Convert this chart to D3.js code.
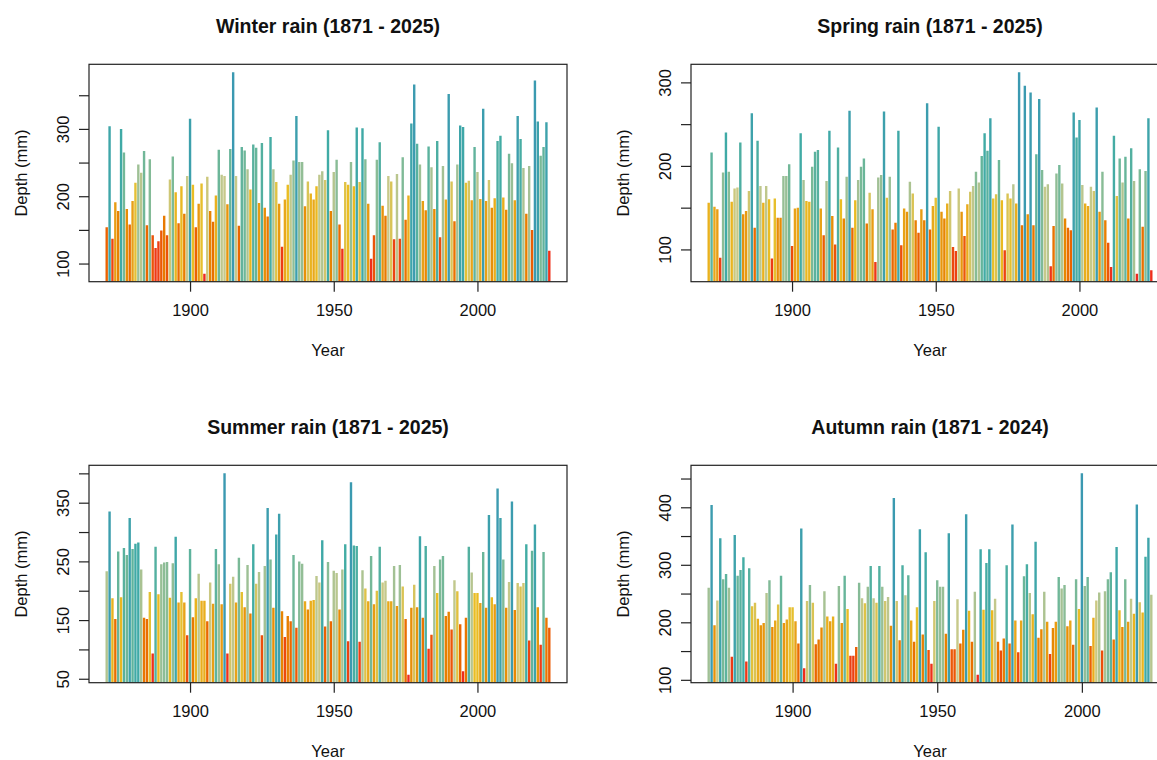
<!DOCTYPE html>
<html>
<head>
<meta charset="utf-8">
<script src="https://cdn.jsdelivr.net/npm/d3@7/dist/d3.min.js"></script>
<style>
  body { margin: 0; background: #fff; }
  text { font-family: "Liberation Sans", Arial, sans-serif; fill: #111; }
</style>
</head>
<body>
<div class="canvas"></div>
<script>
// seasonal rainfall totals (mm)
const winterRain = [
  154, 304, 137, 191, 178, 300, 265, 181, 158, 193,
  220, 247, 235, 267, 157, 255, 142, 123, 133, 149,
  171, 142, 225, 259, 206, 160, 215, 174, 230, 315,
  217, 154, 189, 219, 85, 229, 178, 162, 201, 269,
  232, 230, 188, 270, 384, 230, 156, 273, 268, 240,
  210,
  277, 272, 190, 279, 183, 170, 288, 240, 221, 189,
  125, 195, 217, 232, 253, 319, 251, 251, 185, 222,
  204, 195, 215, 232, 237, 224, 298, 178, 236, 254,
  158, 122, 221, 217, 251, 215, 302, 221, 301, 255,
  189, 107, 142, 254, 280, 186, 171, 230, 222, 136,
  233, 137, 258,
  165, 201, 308, 366, 278, 247, 193, 179, 274, 243,
  181, 282, 139, 245, 195, 352, 222, 163, 247, 305,
  303, 220, 223, 194, 273, 236, 196, 330, 193, 224,
  183, 197, 282, 290, 198, 180, 263, 249, 194, 319,
  285, 242, 174, 245, 150, 372, 311, 260, 273, 310,
  119
];

const springRain = [
  156, 216, 151, 148, 90, 192, 240, 193, 157, 173,
  174, 228, 142, 146, 170, 263, 126, 230, 176, 156,
  176, 160, 89, 161, 138, 138, 188, 188, 202, 104,
  149, 150, 239, 183, 158, 157, 199, 217, 219, 149,
  117, 182, 242, 140, 106, 222, 160, 137,
  187, 266, 126, 159, 183, 199, 209, 131, 168, 148,
  85, 186, 189, 265, 162, 187, 124, 132, 242, 105,
  149, 145, 181, 167, 135, 120, 148, 135, 275, 124,
  152, 162, 247, 145, 137, 155, 170, 103, 98, 173,
  145, 116, 154, 169, 176, 193, 180, 212, 239, 218,
  257, 161, 166, 207,
  159, 99, 167, 161, 178, 155, 312, 129, 296, 142,
  288, 129, 214, 280, 195, 175, 178, 80, 128, 191,
  201, 179, 137, 126, 123, 264, 234, 255, 177, 155,
  152, 175, 170, 270, 145, 193, 135, 108, 79, 236,
  164, 209, 180, 211, 137, 221, 182, 71, 196, 127,
  194, 257, 75
];

const summerRain = [
  233, 335, 187, 152, 267, 189, 273, 261, 324, 271,
  280, 282, 236, 154, 152, 198, 93, 275, 194, 245,
  248, 249, 188, 247, 292, 180, 198, 180, 124, 271,
  155, 187, 229, 183, 183, 148, 214, 178, 271, 245,
  177, 400, 93, 212, 224, 180, 256, 198, 172, 244,
  161,
  279, 212, 232, 124, 242, 341, 253, 171, 296, 331,
  165, 121, 157, 148, 261, 137, 250, 246, 182, 168,
  183, 184, 225, 214, 286, 139, 249, 148, 234, 230,
  168, 236, 279, 114, 385, 277, 276, 113, 235, 204,
  182, 259, 177, 200, 275, 214, 217, 182, 182, 242,
  174, 244, 207,
  152, 57, 171, 210, 172, 293, 154, 276, 101, 125,
  242, 196, 253, 259, 157, 164, 134, 218, 199, 143,
  63, 154, 275, 231, 196, 196, 179, 266, 171, 329,
  189, 177, 374, 324, 253, 171, 215, 352, 167, 213,
  207, 213, 279, 115, 268, 313, 172, 108, 266, 154,
  137
];

const autumnRain = [
  260, 404, 195, 238, 346, 275, 284, 260, 140, 352,
  281, 291, 313, 132, 294, 228, 234, 206, 195, 199,
  251, 273, 192, 203, 231, 281, 199, 205, 226, 226,
  202, 163, 363, 120, 237, 265, 234, 162, 170, 191,
  254, 210, 202, 210, 128, 263, 199, 281,
  223, 142, 142, 157, 269, 242, 233, 262, 298, 242,
  234, 298, 262, 237, 244, 194, 416, 237, 169, 299,
  247, 282, 203, 166, 226, 362, 179, 322, 152, 128,
  237, 273, 262, 262, 180, 355, 153, 153, 240, 163,
  187, 388, 220, 166, 253, 109, 327, 222, 303, 327,
  221,
  241, 166, 151, 172, 299, 163, 370, 203, 148, 203,
  280, 301, 251, 214, 340, 173, 188, 253, 201, 145,
  190, 201, 279, 259, 265, 193, 203, 161, 275, 223,
  459, 263, 279, 159, 208, 238, 252, 151, 254, 275,
  287, 170, 331, 221, 192, 275, 201, 241, 215, 405,
  235, 217, 314, 347, 248
];

const titles = [
  'Winter rain (1871 - 2025)',
  'Spring rain (1871 - 2025)',
  'Summer rain (1871 - 2025)',
  'Autumn rain (1871 - 2024)'
];
const firstYear = 1871;
const yearTicks = [1900, 1950, 2000];

// y ticks (every 50) and the ones that carry a label
const yTicks = [
  [100, 150, 200, 250, 300, 350],
  [100, 150, 200, 250, 300],
  [50, 100, 150, 200, 250, 300, 350, 400],
  [100, 150, 200, 250, 300, 350, 400, 450]
];
const yLabels = [
  [100, 200, 300],
  [100, 200, 300],
  [50, 150, 250, 350],
  [100, 200, 300, 400]
];

// hcl.colors "Zissou 1", reversed (dry = red, wet = blue)
const zissou = ['#EE2A1E', '#EA6400', '#E78802', '#E8A419', '#EABE23',
                '#C7C98A', '#9FC095', '#6FB798', '#40ABA5', '#3B99B1'];

const seasons = [winterRain, springRain, summerRain, autumnRain];

const W = 1157, H = 760;
const plotW = 478, plotH = 217.4;

const svg = d3.select('.canvas')
  .append('svg')
  .attr('width', W)
  .attr('height', H);

seasons.forEach((values, i) => drawPanel(i, values));

function drawPanel(i, values) {
  const left = 89 + (i % 2) * 602;
  const top = 64.3 + Math.floor(i / 2) * 401;

  const g = svg.append('g')
    .attr('transform', `translate(${left},${top})`);

  const data = values.map((v, k) => ({ year: firstYear + k, value: v }));
  const lastYear = data[data.length - 1].year;
  const span = lastYear - firstYear;

  // R style 4% padding on both axes
  const x = d3.scaleLinear()
    .domain([firstYear - 0.04 * span, lastYear + 0.04 * span])
    .range([0, plotW]);

  const ext = d3.extent(values);
  const ySpan = ext[1] - ext[0];
  const y = d3.scaleLinear()
    .domain([ext[0] - 0.04 * ySpan, ext[1] + 0.04 * ySpan])
    .range([plotH, 0]);

  // colour by rank of the value
  const sorted = values.slice().sort(d3.ascending);
  const colour = d3.scaleLinear()
    .domain(d3.range(zissou.length).map(k => k / (zissou.length - 1)))
    .range(zissou);
  const rankOf = v => {
    const lo = d3.bisectLeft(sorted, v);
    const hi = d3.bisectRight(sorted, v) - 1;
    return (lo + hi) / 2 / (sorted.length - 1);
  };

  const clipId = 'clip' + i;
  g.append('clipPath').attr('id', clipId)
    .append('rect')
    .attr('width', plotW).attr('height', plotH);

  g.append('g')
    .attr('clip-path', `url(#${clipId})`)
    .selectAll('line')
    .data(data)
    .enter()
    .append('line')
    .attr('x1', d => x(d.year))
    .attr('x2', d => x(d.year))
    .attr('y1', plotH)
    .attr('y2', d => y(d.value))
    .attr('stroke', d => colour(rankOf(d.value)))
    .attr('stroke-width', 2.4);

  // box
  g.append('rect')
    .attr('width', plotW)
    .attr('height', plotH)
    .attr('fill', 'none')
    .attr('stroke', '#222')
    .attr('stroke-width', 1.2);

  // x axis
  const xAxis = g.append('g')
    .attr('transform', `translate(0,${plotH})`)
    .call(d3.axisBottom(x).tickValues(yearTicks).tickFormat(d3.format('d'))
      .tickSize(10).tickPadding(12.5));
  xAxis.select('.domain').remove();
  xAxis.selectAll('line').attr('stroke', '#222').attr('stroke-width', 1.2);
  xAxis.selectAll('text')
    .attr('font-size', 16.5)
    .attr('font-family', '"Liberation Sans", Arial, sans-serif')
    .attr('fill', '#111');

  // y axis, labels rotated like R's default
  const labels = yLabels[i];
  const yAxis = g.append('g')
    .call(d3.axisLeft(y).tickValues(yTicks[i])
      .tickFormat(d => labels.includes(d) ? d : '')
      .tickSize(10));
  yAxis.select('.domain').remove();
  yAxis.selectAll('line').attr('stroke', '#222').attr('stroke-width', 1.2);
  yAxis.selectAll('text')
    .attr('x', null)
    .attr('dy', null)
    .attr('text-anchor', 'middle')
    .attr('transform', 'translate(-20,0) rotate(-90)')
    .attr('font-size', 16.5)
    .attr('font-family', '"Liberation Sans", Arial, sans-serif')
    .attr('fill', '#111');

  // titles
  g.append('text')
    .attr('x', plotW / 2)
    .attr('y', -31)
    .attr('text-anchor', 'middle')
    .attr('font-weight', 'bold')
    .attr('font-size', 19.5)
    .text(titles[i]);

  g.append('text')
    .attr('x', plotW / 2)
    .attr('y', plotH + 74)
    .attr('text-anchor', 'middle')
    .attr('font-size', 16.5)
    .text('Year');

  g.append('text')
    .attr('transform', `translate(-62,${plotH / 2}) rotate(-90)`)
    .attr('text-anchor', 'middle')
    .attr('font-size', 16.5)
    .text('Depth (mm)');
}
</script>
</body>
</html>
